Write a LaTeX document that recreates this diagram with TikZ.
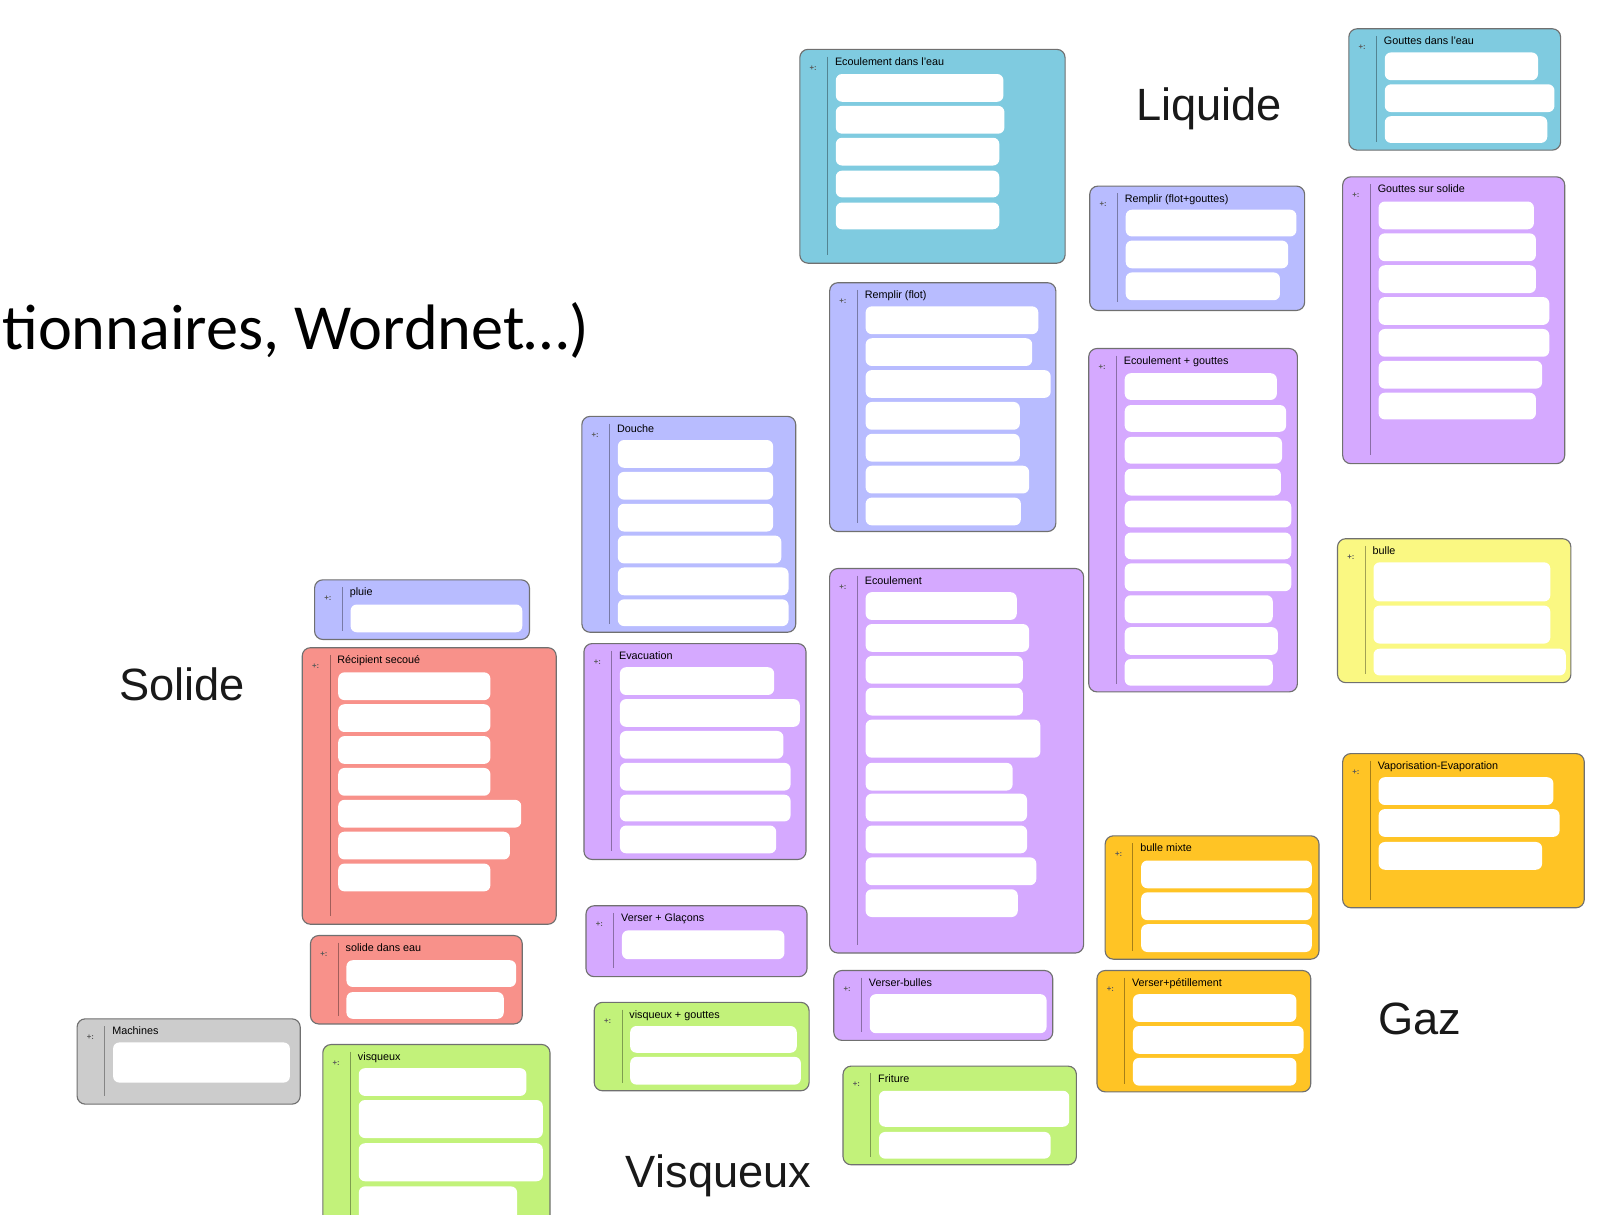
\documentclass[tikz,border=0pt]{standalone}
\usepackage{fontspec}
\setmainfont{Liberation Sans}
\newfontfamily\calib{Carlito}
\definecolor{cblue}{HTML}{7FCBE0}
\definecolor{clav}{HTML}{B8BCFF}
\definecolor{cpurp}{HTML}{D5A9FF}
\definecolor{csalm}{HTML}{F8918A}
\definecolor{cgray}{HTML}{CCCCCC}
\definecolor{cgreen}{HTML}{C2F27A}
\definecolor{cyell}{HTML}{FAF882}
\definecolor{corange}{HTML}{FFC425}
\definecolor{cborder}{HTML}{707070}
\tikzset{
  cardbox/.style={rectangle, rounded corners=8pt, draw=cborder, line width=1.1pt, anchor=north west, inner sep=0pt, outer sep=0pt},
  barbox/.style={rectangle, rounded corners=6pt, fill=white, draw=none, anchor=north west, inner sep=0pt, outer sep=0pt},
  sepline/.style={line width=0.9pt},
  cardtitle/.style={anchor=base west, inner sep=0pt, font=\fontsize{10.5}{12}\selectfont, text=black},
  cardicon/.style={inner sep=0pt, font=\fontsize{7.5}{8}\selectfont\bfseries, text=black!65},
  biglabel/.style={anchor=base, inner sep=0pt, font=\fontsize{44}{50}\selectfont, text=black!90}
}
\newcommand{\card}[8]{%
  \node[cardbox, fill=#2, minimum width={#5-#3}, minimum height={#6-#4}] (#1) at (#3,#4) {};
  \draw[sepline, draw=#2!65!black] ([xshift=27pt,yshift=-7pt]#1.north west) -- ([xshift=27pt,yshift=8pt]#1.south west);
  \node[cardicon] (#1-icon) at ([xshift=13pt,yshift=-18pt]#1.north west) {+:};
  \node[cardtitle] (#1-title) at (#3+34,#4+15.5) {#7};
  \foreach \bt/\bb/\br [count=\i] in {#8} {
    \node[barbox, minimum width={\br-#3-35}, minimum height={\bb-\bt}] (#1-\i) at (#3+35,\bt) {};
  }
}
\begin{document}
\begin{tikzpicture}[x=1pt,y=-1pt]
\clip (0,0) rectangle (1568,1181);
\fill[white] (0,0) rectangle (1568,1181);

% big labels
\node[anchor=base west, inner sep=0pt, font=\calib\fontsize{62.5}{70}\selectfont, text=black] (dict) at (2,340) {tionnaires, Wordnet…)};
\node[biglabel] (liquide) at (1176,117) {Liquide};
\node[biglabel] (solide) at (177,681) {Solide};
\node[biglabel] (gaz) at (1381,1006) {Gaz};
\node[biglabel] (visqueux) at (699,1155) {Visqueux};

% cards
\card{eceau}{cblue}{778}{48}{1036}{256}{Ecoulement dans l'eau}{72/99/976, 103/130/977, 134/161/972, 166/192/972, 197/223/972}
\card{geau}{cblue}{1312}{28}{1518}{146}{Gouttes dans l'eau}{51/78/1496, 82/109/1512, 113/139/1505}
\card{rfg}{clav}{1060}{181}{1269}{302}{Remplir (flot+gouttes)}{204/230/1261, 234/261/1253, 265/292/1245}
\card{gsol}{cpurp}{1306}{172}{1522}{451}{Gouttes sur solide}{196/223/1492, 227/254/1494, 258/285/1494, 289/316/1507, 320/347/1507, 351/378/1500, 382/408/1494}
\card{rflot}{clav}{807}{275}{1027}{517}{Remplir (flot)}{298/325/1010, 329/356/1004, 360/387/1022, 391/418/992, 422/449/992, 453/480/1001, 484/511/993}
\card{ecg}{cpurp}{1059}{339}{1262}{673}{Ecoulement + gouttes}{363/389/1242, 394/420/1251, 425/451/1247, 456/482/1246, 487/513/1256, 518/544/1256, 548/575/1256, 579/606/1238, 610/637/1243, 641/667/1238}
\card{douche}{clav}{566}{405}{774}{615}{Douche}{428/455/752, 459/486/752, 490/517/752, 521/548/760, 552/579/767, 583/609/767}
\card{pluie}{clav}{306}{564}{515}{622}{pluie}{588/615/508}
\card{recip}{csalm}{294}{630}{541}{899}{Récipient secoué}{654/681/477, 685/712/477, 716/743/477, 747/774/477, 778/805/507, 809/836/496, 840/867/477}
\card{evac}{cpurp}{568}{626}{784}{836}{Evacuation}{649/676/753, 680/707/778, 711/738/762, 742/769/769, 773/799/769, 803/830/755}
\card{ecoul}{cpurp}{807}{553}{1054}{927}{Ecoulement}{576/603/989, 607/634/1001, 638/665/995, 669/696/995, 700/737/1012, 742/769/985, 772/799/999, 803/830/999, 834/861/1008, 865/892/990}
\card{vglac}{cpurp}{570}{881}{785}{950}{Verser + Glaçons}{905/933/763}
\card{soleau}{csalm}{302}{910}{508}{996}{solide dans eau}{934/960/502, 965/991/490}
\card{mach}{cgray}{75}{991}{292}{1074}{Machines}{1014/1053/282}
\card{visq}{cgreen}{314}{1016}{535}{1210}{visqueux}{1039/1066/512, 1070/1107/528, 1112/1149/528, 1154/1190/503}
\card{visqg}{cgreen}{578}{975}{787}{1061}{visqueux + gouttes}{998/1024/775, 1028/1055/779}
\card{vbulles}{cpurp}{811}{944}{1024}{1012}{Verser-bulles}{967/1005/1018}
\card{friture}{cgreen}{820}{1037}{1047}{1133}{Friture}{1061/1096/1040, 1101/1127/1022}
\card{bulle}{cyell}{1301}{524}{1528}{664}{bulle}{547/585/1508, 589/626/1508, 631/657/1523}
\card{vapo}{corange}{1306}{733}{1541}{883}{Vaporisation-Evaporation}{756/783/1511, 787/814/1517, 819/846/1500}
\card{bmixte}{corange}{1075}{813}{1283}{933}{bulle mixte}{837/864/1276, 868/895/1276, 899/926/1276}
\card{vpet}{corange}{1067}{944}{1275}{1062}{Verser+pétillement}{967/994/1261, 998/1025/1268, 1029/1056/1261}
\end{tikzpicture}
\end{document}
